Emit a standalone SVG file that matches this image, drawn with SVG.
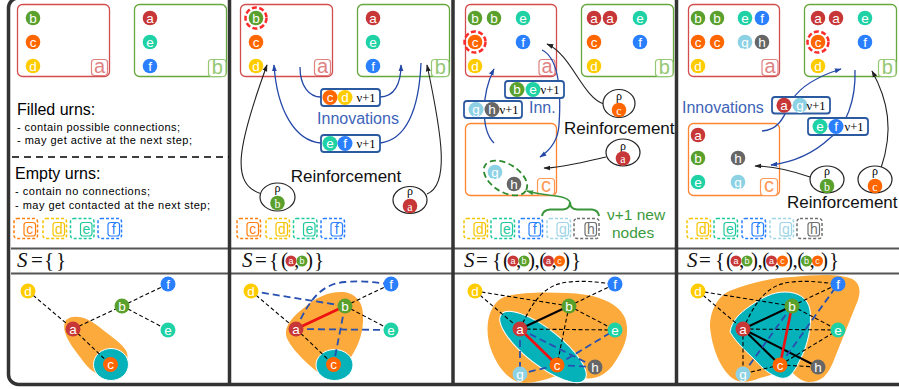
<svg xmlns="http://www.w3.org/2000/svg" width="899" height="389" viewBox="0 0 899 389">
<defs>
<marker id="mk" viewBox="0 0 10 10" refX="9" refY="5" markerWidth="7" markerHeight="7" markerUnits="userSpaceOnUse" orient="auto"><path d="M0,1.5 L10,5 L0,8.5 Z" fill="#222"/></marker>
<marker id="mb" viewBox="0 0 10 10" refX="9" refY="5" markerWidth="7" markerHeight="7" markerUnits="userSpaceOnUse" orient="auto"><path d="M0,1.5 L10,5 L0,8.5 Z" fill="#2448a8"/></marker>
<marker id="mg" viewBox="0 0 10 10" refX="9" refY="5" markerWidth="7" markerHeight="7" markerUnits="userSpaceOnUse" orient="auto"><path d="M0,1.5 L10,5 L0,8.5 Z" fill="#3a963a"/></marker>
<style>
text{font-family:"Liberation Sans",Arial,sans-serif}
.n text{fill:#fff;font-size:13.5px;text-anchor:middle}
.m text{fill:#fff;font-size:9px;text-anchor:middle}
.na circle{fill:#c83737}.nb circle{fill:#5aa02c}.nc circle{fill:#ff6600}.nd circle{fill:#ffcc00}
.ne circle{fill:#1ed2a5}.nf circle{fill:#2a7fff}.ng circle{fill:#8dd1e4}.nh circle{fill:#666}
.urn{fill:none;stroke-width:1.3}
.ra{stroke:#d24d4d}.rb{stroke:#66a83c}.rc{stroke:#ff8533}
.tag rect{fill:#fff;stroke-width:1.2}
.tag text{font-size:20px;text-anchor:middle}
.ta rect{stroke:#de8282}.ta text{fill:#de8282}
.tb rect{stroke:#96c873}.tb text{fill:#96c873}
.tc rect{stroke:#ff9955}.tc text{fill:#ff9955}
.sel{fill:none;stroke:#ff2a2a;stroke-width:2.5;stroke-dasharray:5 2.5}
.emp .o{fill:none;stroke-width:1.5;stroke-dasharray:3 2}
.emp .i{fill:none;stroke-width:1.2}
.emp text{font-size:14px;text-anchor:middle}
.xc rect{stroke:#ff7f0e}.xc text{fill:#ff7f0e}
.xd rect{stroke:#f5c400}.xd text{fill:#f5c400}
.xe rect{stroke:#1ec99d}.xe text{fill:#1ec99d}
.xf rect{stroke:#2a7fff}.xf text{fill:#2a7fff}
.xg rect{stroke:#9fd6e6}.xg text{fill:#9fd6e6}
.xh rect{stroke:#707070}.xh text{fill:#707070}
.ib{fill:#fff;stroke:#2c5aa0;stroke-width:1.8}
.nu{font-family:"Liberation Serif",serif;font-size:12.5px;fill:#000;text-anchor:middle}
.bl{fill:none;stroke:#2448a8;stroke-width:1.3}
.bk{fill:none;stroke:#222;stroke-width:1.1}
.rho ellipse{fill:#fff;stroke:#222;stroke-width:1.2}
.rho text{font-family:"Liberation Serif",serif;font-size:12px;text-anchor:middle}
.inn{fill:#3d64b8;font-size:16px}
.rf{font-size:17px;fill:#111}
.sx{font-family:"Liberation Serif",serif;font-size:21px;fill:#111}
.it{font-style:italic}
.ed{stroke:#000;stroke-width:1.1;stroke-dasharray:4 2.5;fill:none}
.eb{stroke:#2850b0;stroke-width:1.8;stroke-dasharray:7 4;fill:none}
.er{stroke:#ee1111;stroke-width:2.6}
.es{stroke:#000;stroke-width:2}
.bo{fill:#fdaa3c}
.bt{fill:#06b2b9;stroke:#fff;stroke-width:1}
.frame{fill:none;stroke:#333;stroke-width:3.5}
.sep{stroke:#555;stroke-width:2}
</style>
</defs>

<!-- outer frame, panel dividers and row separators -->
<rect class="frame" x="8.5" y="-2" width="912" height="386.5" rx="10"/>
<line class="sep" x1="11" y1="248.5" x2="899" y2="248.5"/>
<line class="sep" x1="11" y1="273.5" x2="899" y2="273.5"/>
<g stroke="#333" stroke-width="3.5">
<line x1="229.5" y1="0" x2="229.5" y2="385"/>
<line x1="453" y1="0" x2="453" y2="385"/>
<line x1="676.5" y1="0" x2="676.5" y2="385"/>
</g>

<!-- ============ step 0 ============ -->
<g id="panel-1">
<g id="p1-urn-a">
<rect class="urn ra" x="17.5" y="4.5" width="92" height="72" rx="5"/>
<g class="n nb" transform="translate(33,18)"><circle r="7.3"/><text y="4.7">b</text></g>
<g class="n nc" transform="translate(33,42)"><circle r="7.3"/><text y="4.7">c</text></g>
<g class="n nd" transform="translate(33,66)"><circle r="7.3"/><text y="4.7">d</text></g>
<g class="tag ta"><rect x="91.5" y="59.5" width="16" height="16" rx="3"/><text x="99.5" y="72.5">a</text></g>
</g>
<g id="p1-urn-b">
<rect class="urn rb" x="134.5" y="4.5" width="92" height="72" rx="5"/>
<g class="n na" transform="translate(150,18)"><circle r="7.3"/><text y="4.7">a</text></g>
<g class="n ne" transform="translate(150,42)"><circle r="7.3"/><text y="4.7">e</text></g>
<g class="n nf" transform="translate(150,66)"><circle r="7.3"/><text y="4.7">f</text></g>
<g class="tag tb"><rect x="208.5" y="59.5" width="17.5" height="17" rx="3"/><text x="217.3" y="74">b</text></g>
</g>
<g id="p1-legend">
<text x="17" y="115" font-size="16">Filled urns:</text>
<text x="17" y="131" font-size="11" textLength="163">- contain possible connections;</text>
<text x="17" y="143.5" font-size="11" textLength="175">- may get active at the next step;</text>
<line x1="12" y1="157" x2="229" y2="157" stroke="#000" stroke-width="1.5" stroke-dasharray="7 5"/>
<text x="15" y="179" font-size="16">Empty urns:</text>
<text x="15" y="194.5" font-size="11" textLength="135">- contain no connections;</text>
<text x="15" y="208.5" font-size="11" textLength="195">- may get contacted at the next step;</text>
</g>
<g id="p1-empty" class="emp">
<g class="xc"><rect class="o" x="14" y="218.5" width="23.5" height="20" rx="3"/><rect class="i" x="24" y="222.5" width="11.5" height="13.5" rx="2.5"/><text x="29.8" y="234">c</text></g>
<g class="xd"><rect class="o" x="43" y="218.5" width="23.5" height="20" rx="3"/><rect class="i" x="53" y="222.5" width="11.5" height="13.5" rx="2.5"/><text x="58.8" y="234">d</text></g>
<g class="xe"><rect class="o" x="70.5" y="218.5" width="23.5" height="20" rx="3"/><rect class="i" x="80.5" y="222.5" width="11.5" height="13.5" rx="2.5"/><text x="86.3" y="234">e</text></g>
<g class="xf"><rect class="o" x="98" y="218.5" width="23.5" height="20" rx="3"/><rect class="i" x="108" y="222.5" width="11.5" height="13.5" rx="2.5"/><text x="113.8" y="234">f</text></g>
</g>
<text class="sx" y="267"><tspan class="it" x="17">S</tspan><tspan x="31">=</tspan><tspan x="44">{</tspan><tspan x="56">}</tspan></text>
<g id="p1-graph">
<path class="bo" d="M66,320 C72,314 86,316 98,326 C115,340 131,348 127,360 L112,376 C100,378 90,372 80,357 C70,344 60,330 66,320 Z"/>
<ellipse class="bt" cx="111" cy="364.5" rx="17.5" ry="16"/>
<g id="p1-edges">
<line class="ed" x1="28" y1="291" x2="73" y2="329"/>
<line class="ed" x1="73" y1="329" x2="122" y2="306"/>
<line class="ed" x1="122" y1="306" x2="168" y2="284"/>
<line class="ed" x1="122" y1="306" x2="168" y2="330"/>
<line class="ed" x1="73" y1="329" x2="110.5" y2="364.5"/>
</g>
<g id="p1-d" class="n nd" transform="translate(28,291)"><circle r="7.5"/><text y="4.7">d</text></g>
<g id="p1-f" class="n nf" transform="translate(168,284)"><circle r="7.5"/><text y="4.7">f</text></g>
<g id="p1-b" class="n nb" transform="translate(122,306)"><circle r="7.5"/><text y="4.7">b</text></g>
<g id="p1-e" class="n ne" transform="translate(168,330)"><circle r="7.5"/><text y="4.7">e</text></g>
<g id="p1-a" class="n na" transform="translate(73,329)"><circle r="7.5"/><text y="4.7">a</text></g>
<g id="p1-c" class="n nc" transform="translate(110.5,364.5)"><circle r="7.5"/><text y="4.7">c</text></g>
</g>
</g>

<!-- ============ step 1 ============ -->
<g id="panel-2" transform="translate(223,0)">
<g id="p2-urn-a">
<rect class="urn ra" x="17.5" y="4.5" width="92" height="72" rx="5"/>
<g class="n nb" transform="translate(33,18)"><circle r="7.3"/><text y="4.7">b</text></g>
<circle class="sel" cx="33" cy="18" r="10.5"/>
<g class="n nc" transform="translate(33,42)"><circle r="7.3"/><text y="4.7">c</text></g>
<g class="n nd" transform="translate(33,66)"><circle r="7.3"/><text y="4.7">d</text></g>
<g class="tag ta"><rect x="91.5" y="59.5" width="16" height="16" rx="3"/><text x="99.5" y="72.5">a</text></g>
</g>
<g id="p2-urn-b">
<rect class="urn rb" x="134.5" y="4.5" width="92" height="72" rx="5"/>
<g class="n na" transform="translate(150,18)"><circle r="7.3"/><text y="4.7">a</text></g>
<g class="n ne" transform="translate(150,42)"><circle r="7.3"/><text y="4.7">e</text></g>
<g class="n nf" transform="translate(150,66)"><circle r="7.3"/><text y="4.7">f</text></g>
<g class="tag tb"><rect x="208.5" y="59.5" width="17.5" height="17" rx="3"/><text x="217.3" y="74">b</text></g>
</g>
<g id="p2-arrows">
<path class="bl" d="M77,67 C77,86 86,97 98,97"/>
<path class="bl" d="M157,97 C171,97 178,84 178,65" marker-end="url(#mb)"/>
<path class="bl" d="M198,63 C196,110 183,140 157,143"/>
<path class="bl" d="M98,143 C72,141 54,110 51,65" marker-end="url(#mb)"/>
<path class="bk" d="M39,194 C8,185 13,150 44,65" marker-end="url(#mk)"/>
<path class="bk" d="M204,194 C226,185 220,140 204,65" marker-end="url(#mk)"/>
</g>
<g id="p2-inn-cd">
<rect class="ib" x="98" y="89" width="59" height="17" rx="3"/>
<g class="n nc" transform="translate(107,97.5)"><circle r="7.5"/><text y="4.7">c</text></g>
<g class="n nd" transform="translate(122,97.5)"><circle r="7.5"/><text y="4.7">d</text></g>
<text class="nu" x="143" y="102">ν+1</text>
</g>
<text class="inn" x="135" y="124" text-anchor="middle">Innovations</text>
<g id="p2-inn-ef">
<rect class="ib" x="98" y="135" width="59" height="17" rx="3"/>
<g class="n ne" transform="translate(107,143.5)"><circle r="7.5"/><text y="4.7">e</text></g>
<g class="n nf" transform="translate(122,143.5)"><circle r="7.5"/><text y="4.7">f</text></g>
<text class="nu" x="143" y="148">ν+1</text>
</g>
<text class="rf" x="123" y="182" text-anchor="middle">Reinforcement</text>
<g id="p2-rho-b" class="rho">
<ellipse cx="54.5" cy="197" rx="17.5" ry="14"/>
<text x="54.5" y="192">ρ</text>
<g class="n nb" transform="translate(54.5,203)"><circle r="7.3"/><text y="4.7">b</text></g>
</g>
<g id="p2-rho-a" class="rho">
<ellipse cx="187" cy="200" rx="17" ry="13.5"/>
<text x="187" y="195">ρ</text>
<g class="n na" transform="translate(187,206)"><circle r="7.3"/><text y="4.7">a</text></g>
</g>
<g id="p2-empty" class="emp">
<g class="xc"><rect class="o" x="14" y="218.5" width="23.5" height="20" rx="3"/><rect class="i" x="24" y="222.5" width="11.5" height="13.5" rx="2.5"/><text x="29.8" y="234">c</text></g>
<g class="xd"><rect class="o" x="43" y="218.5" width="23.5" height="20" rx="3"/><rect class="i" x="53" y="222.5" width="11.5" height="13.5" rx="2.5"/><text x="58.8" y="234">d</text></g>
<g class="xe"><rect class="o" x="70.5" y="218.5" width="23.5" height="20" rx="3"/><rect class="i" x="80.5" y="222.5" width="11.5" height="13.5" rx="2.5"/><text x="86.3" y="234">e</text></g>
<g class="xf"><rect class="o" x="98" y="218.5" width="23.5" height="20" rx="3"/><rect class="i" x="108" y="222.5" width="11.5" height="13.5" rx="2.5"/><text x="113.8" y="234">f</text></g>
</g>
<g id="p2-set">
<text class="sx" y="267"><tspan class="it" x="19">S</tspan><tspan x="32">=</tspan><tspan x="46">{</tspan><tspan x="58">(</tspan><tspan x="71">,</tspan><tspan x="83">)</tspan><tspan x="91">}</tspan></text>
<g class="m na" transform="translate(68,261)"><circle r="5.5"/><text y="3.2">a</text></g>
<g class="m nb" transform="translate(79,261)"><circle r="5.5"/><text y="3.2">b</text></g>
</g>
<g id="p2-graph">
<path class="bo" d="M82,307 C92,298 105,292 118,292 C130,292 140,300 140,315 C141,330 136,345 128,357 C118,370 100,378 92,370 C80,360 65,345 63,335 C62,325 70,316 82,307 Z"/>
<ellipse class="bt" cx="111.5" cy="365" rx="18.5" ry="15.5"/>
<g id="p2-edges">
<line class="ed" x1="28" y1="291" x2="73" y2="329"/>
<line class="ed" x1="73" y1="329" x2="110.5" y2="364.5"/>
<line class="ed" x1="122" y1="306" x2="168" y2="284"/>
<line class="ed" x1="122" y1="306" x2="168" y2="330"/>
<line class="er" x1="73" y1="329" x2="122" y2="306"/>
<line class="eb" x1="28" y1="291" x2="122" y2="306"/>
<line class="eb" x1="73" y1="329" x2="168" y2="330"/>
<line class="eb" x1="122" y1="306" x2="110.5" y2="364.5"/>
<path class="eb" d="M73,329 C86,300 98,284 122,282 C140,280 155,283 168,284"/>
</g>
<g id="p2-d" class="n nd" transform="translate(28,291)"><circle r="7.5"/><text y="4.7">d</text></g>
<g id="p2-f" class="n nf" transform="translate(168,284)"><circle r="7.5"/><text y="4.7">f</text></g>
<g id="p2-b" class="n nb" transform="translate(122,306)"><circle r="7.5"/><text y="4.7">b</text></g>
<g id="p2-e" class="n ne" transform="translate(168,330)"><circle r="7.5"/><text y="4.7">e</text></g>
<g id="p2-a" class="n na" transform="translate(73,329)"><circle r="7.5"/><text y="4.7">a</text></g>
<g id="p2-c" class="n nc" transform="translate(110.5,364.5)"><circle r="7.5"/><text y="4.7">c</text></g>
</g>
</g>

<!-- ============ step 2 ============ -->
<g id="panel-3" transform="translate(447,0)">
<g id="p3-urn-a">
<rect class="urn ra" x="18.5" y="4.5" width="91" height="72" rx="5"/>
<g class="n nb" transform="translate(28,18)"><circle r="7.3"/><text y="4.7">b</text></g>
<g class="n nb" transform="translate(47,18)"><circle r="7.3"/><text y="4.7">b</text></g>
<g class="n ne" transform="translate(76,18)"><circle r="7.3"/><text y="4.7">e</text></g>
<g class="n nc" transform="translate(28,42)"><circle r="7.3"/><text y="4.7">c</text></g>
<circle class="sel" cx="28" cy="42" r="10.5"/>
<g class="n nf" transform="translate(76,42)"><circle r="7.3"/><text y="4.7">f</text></g>
<g class="n nd" transform="translate(28,66)"><circle r="7.3"/><text y="4.7">d</text></g>
<g class="tag ta"><rect x="92" y="59.5" width="16" height="16" rx="3"/><text x="100" y="72.5">a</text></g>
</g>
<g id="p3-urn-b">
<rect class="urn rb" x="134.5" y="4.5" width="92" height="72" rx="5"/>
<g class="n na" transform="translate(147,18)"><circle r="7.3"/><text y="4.7">a</text></g>
<g class="n na" transform="translate(163,18)"><circle r="7.3"/><text y="4.7">a</text></g>
<g class="n ne" transform="translate(193,18)"><circle r="7.3"/><text y="4.7">e</text></g>
<g class="n nc" transform="translate(147,42)"><circle r="7.3"/><text y="4.7">c</text></g>
<g class="n nf" transform="translate(193,42)"><circle r="7.3"/><text y="4.7">f</text></g>
<g class="n nd" transform="translate(147,66)"><circle r="7.3"/><text y="4.7">d</text></g>
<g class="tag tb"><rect x="208.5" y="59.5" width="17.5" height="17" rx="3"/><text x="217.3" y="74">b</text></g>
</g>
<g id="p3-urn-c">
<rect class="urn rc" x="18.5" y="123.5" width="91" height="72" rx="5"/>
<ellipse cx="58.5" cy="178" rx="24" ry="14" transform="rotate(32 58.5 178)" fill="none" stroke="#2d8a2d" stroke-width="1.8" stroke-dasharray="6 3.5"/>
<g class="n ng" transform="translate(48,172)"><circle r="7.3"/><text y="4.7">g</text></g>
<g class="n nh" transform="translate(67,184)"><circle r="7.3"/><text y="4.7">h</text></g>
<g class="tag tc"><rect x="90.5" y="178.5" width="17" height="17" rx="3"/><text x="99" y="192">c</text></g>
</g>
<g id="p3-arrows">
<path class="bl" d="M47,143 C34,130 34,95 47,69" marker-end="url(#mb)"/>
<path class="bl" d="M95,50 C116,60 113,110 112,125 C111,142 102,151 93,157" marker-end="url(#mb)"/>
<path class="bk" d="M157,104 C135,97 125,55 100,44" marker-end="url(#mk)"/>
<path class="bk" d="M159,157 C135,162 115,168 97,168" marker-end="url(#mk)"/>
</g>
<g id="p3-inn-be">
<rect class="ib" x="58" y="81" width="59" height="17" rx="3"/>
<g class="n nb" transform="translate(70,89.5)"><circle r="7.5"/><text y="4.7">b</text></g>
<g class="n ne" transform="translate(86,89.5)"><circle r="7.5"/><text y="4.7">e</text></g>
<text class="nu" x="103" y="94">ν+1</text>
</g>
<g id="p3-inn-gh">
<rect class="ib" x="17" y="101" width="58" height="17" rx="3"/>
<g class="n ng" transform="translate(29,109.5)"><circle r="7.5"/><text y="4.7">g</text></g>
<g class="n nh" transform="translate(45,109.5)"><circle r="7.5"/><text y="4.7">h</text></g>
<text class="nu" x="62" y="114">ν+1</text>
</g>
<text class="inn" x="82" y="113">Inn.</text>
<text class="rf" x="117" y="134">Reinforcement</text>
<g id="p3-rho-c" class="rho">
<ellipse cx="172" cy="103.5" rx="16" ry="14"/>
<text x="172" y="99.5">ρ</text>
<g class="n nc" transform="translate(172,110)"><circle r="7.3"/><text y="4.7">c</text></g>
</g>
<g id="p3-rho-a" class="rho">
<ellipse cx="176" cy="152.5" rx="17" ry="13.5"/>
<text x="176" y="149.5">ρ</text>
<g class="n na" transform="translate(176,158.5)"><circle r="7.3"/><text y="4.7">a</text></g>
</g>
<g id="p3-new">
<path d="M95,216 Q96,210 103,209.5 L116,209.5 Q123,209 123,202 Q123,209 130,209.5 L145,209.5 Q151,210 152,216" fill="none" stroke="#3a963a" stroke-width="2"/>
<path d="M123,202 C118,194 100,197 80,191" fill="none" stroke="#3a963a" stroke-width="1.5" marker-end="url(#mg)"/>
<text x="160" y="220" font-size="15.5" fill="#3c9a3c">ν+1 new</text>
<text x="165" y="238" font-size="15.5" fill="#3c9a3c">nodes</text>
</g>
<g id="p3-empty" class="emp">
<g class="xd"><rect class="o" x="17" y="218.5" width="23.5" height="20" rx="3"/><rect class="i" x="27" y="222.5" width="11.5" height="13.5" rx="2.5"/><text x="32.8" y="234">d</text></g>
<g class="xe"><rect class="o" x="44" y="218.5" width="23.5" height="20" rx="3"/><rect class="i" x="54" y="222.5" width="11.5" height="13.5" rx="2.5"/><text x="59.8" y="234">e</text></g>
<g class="xf"><rect class="o" x="72" y="218.5" width="23.5" height="20" rx="3"/><rect class="i" x="82" y="222.5" width="11.5" height="13.5" rx="2.5"/><text x="87.8" y="234">f</text></g>
<g class="xg"><rect class="o" x="100" y="218.5" width="23.5" height="20" rx="3"/><rect class="i" x="110" y="222.5" width="11.5" height="13.5" rx="2.5"/><text x="115.8" y="234">g</text></g>
<g class="xh"><rect class="o" x="127" y="218.5" width="25" height="20" rx="3"/><rect class="i" x="138" y="222.5" width="11.5" height="13.5" rx="2.5"/><text x="143.8" y="234">h</text></g>
</g>
<g id="p3-set">
<text class="sx" y="267"><tspan class="it" x="17">S</tspan><tspan x="29">=</tspan><tspan x="45">{</tspan><tspan x="56">(</tspan><tspan x="69">,</tspan><tspan x="81" letter-spacing="-0.5">),(</tspan><tspan x="104.5">,</tspan><tspan x="116">)</tspan><tspan x="124">}</tspan></text>
<g class="m na" transform="translate(66,261)"><circle r="5.5"/><text y="3.2">a</text></g>
<g class="m nb" transform="translate(77,261)"><circle r="5.5"/><text y="3.2">b</text></g>
<g class="m na" transform="translate(101.5,261)"><circle r="5.5"/><text y="3.2">a</text></g>
<g class="m nc" transform="translate(112.5,261)"><circle r="5.5"/><text y="3.2">c</text></g>
</g>
<g id="p3-graph">
<path class="bo" d="M42,343 C38,325 42,305 55,298 C70,292 95,292 120,293 C145,294 170,300 178,318 C184,335 176,350 168,362 C160,375 148,380 136,378 C128,376 126,370 120,372 C108,376 95,382 78,383 C62,383 48,365 42,343 Z"/>
<ellipse class="bt" cx="96" cy="347" rx="53" ry="18" transform="rotate(38 96 347)"/>
<g id="p3-edges">
<line class="ed" x1="28" y1="291" x2="73" y2="329"/>
<line class="ed" x1="28" y1="291" x2="122" y2="306"/>
<path class="ed" d="M73,329 C86,300 98,284 122,282 C140,280 155,283 168,284"/>
<line class="ed" x1="122" y1="306" x2="168" y2="284"/>
<line class="ed" x1="122" y1="306" x2="168" y2="330"/>
<line class="ed" x1="73" y1="329" x2="168" y2="330"/>
<line class="ed" x1="122" y1="306" x2="110" y2="365"/>
<line class="es" x1="73" y1="329" x2="122" y2="306"/>
<line class="eb" x1="73" y1="329" x2="73" y2="374"/>
<line class="eb" x1="73" y1="329" x2="148" y2="367"/>
<line class="eb" x1="110" y1="365" x2="168" y2="330"/>
<line class="eb" x1="110" y1="365" x2="73" y2="374"/>
<line class="eb" x1="110" y1="365" x2="148" y2="367"/>
<line class="er" x1="73" y1="329" x2="110" y2="365"/>
</g>
<g id="p3-d" class="n nd" transform="translate(28,291)"><circle r="7.5"/><text y="4.7">d</text></g>
<g id="p3-f" class="n nf" transform="translate(168,284)"><circle r="7.5"/><text y="4.7">f</text></g>
<g id="p3-b" class="n nb" transform="translate(122,306)"><circle r="7.5"/><text y="4.7">b</text></g>
<g id="p3-e" class="n ne" transform="translate(168,330)"><circle r="7.5"/><text y="4.7">e</text></g>
<g id="p3-a" class="n na" transform="translate(73,329)"><circle r="7.5"/><text y="4.7">a</text></g>
<g id="p3-c" class="n nc" transform="translate(110,365)"><circle r="7.5"/><text y="4.7">c</text></g>
<g id="p3-h" class="n nh" transform="translate(148,367)"><circle r="7.5"/><text y="4.7">h</text></g>
<g id="p3-g" class="n ng" transform="translate(73,374)"><circle r="7.5"/><text y="4.7">g</text></g>
</g>
</g>

<!-- ============ step 3 ============ -->
<g id="panel-4" transform="translate(670,0)">
<g id="p4-urn-a">
<rect class="urn ra" x="18.5" y="4.5" width="91" height="72" rx="5"/>
<g class="n nb" transform="translate(28,18)"><circle r="7.3"/><text y="4.7">b</text></g>
<g class="n nb" transform="translate(47,18)"><circle r="7.3"/><text y="4.7">b</text></g>
<g class="n ne" transform="translate(75,18)"><circle r="7.3"/><text y="4.7">e</text></g>
<g class="n nf" transform="translate(92,18)"><circle r="7.3"/><text y="4.7">f</text></g>
<g class="n nc" transform="translate(28,42)"><circle r="7.3"/><text y="4.7">c</text></g>
<g class="n nc" transform="translate(47,42)"><circle r="7.3"/><text y="4.7">c</text></g>
<g class="n ng" transform="translate(75,42)"><circle r="7.3"/><text y="4.7">g</text></g>
<g class="n nh" transform="translate(92,42)"><circle r="7.3"/><text y="4.7">h</text></g>
<g class="n nd" transform="translate(28,66)"><circle r="7.3"/><text y="4.7">d</text></g>
<g class="tag ta"><rect x="92" y="59.5" width="16" height="16" rx="3"/><text x="100" y="72.5">a</text></g>
</g>
<g id="p4-urn-b">
<rect class="urn rb" x="134.5" y="4.5" width="92" height="72" rx="5"/>
<g class="n na" transform="translate(148,18)"><circle r="7.3"/><text y="4.7">a</text></g>
<g class="n na" transform="translate(166,18)"><circle r="7.3"/><text y="4.7">a</text></g>
<g class="n ne" transform="translate(195,18)"><circle r="7.3"/><text y="4.7">e</text></g>
<g class="n nc" transform="translate(148,42)"><circle r="7.3"/><text y="4.7">c</text></g>
<circle class="sel" cx="148" cy="42" r="10.5"/>
<g class="n nf" transform="translate(195,42)"><circle r="7.3"/><text y="4.7">f</text></g>
<g class="n nd" transform="translate(148,66)"><circle r="7.3"/><text y="4.7">d</text></g>
<g class="tag tb"><rect x="208.5" y="59.5" width="17.5" height="17" rx="3"/><text x="217.3" y="74">b</text></g>
</g>
<g id="p4-urn-c">
<rect class="urn rc" x="18.5" y="123.5" width="91" height="72" rx="5"/>
<g class="n na" transform="translate(28,135)"><circle r="7.3"/><text y="4.7">a</text></g>
<g class="n nb" transform="translate(28,158)"><circle r="7.3"/><text y="4.7">b</text></g>
<g class="n nh" transform="translate(68,158)"><circle r="7.3"/><text y="4.7">h</text></g>
<g class="n ne" transform="translate(28,182)"><circle r="7.3"/><text y="4.7">e</text></g>
<g class="n ng" transform="translate(68,182)"><circle r="7.3"/><text y="4.7">g</text></g>
<g class="tag tc"><rect x="90.5" y="178.5" width="17" height="17" rx="3"/><text x="99" y="192">c</text></g>
</g>
<g id="p4-arrows">
<path class="bl" d="M92,131 C112,130 116,110 122,100 C132,84 152,75 171,69" marker-end="url(#mb)"/>
<path class="bl" d="M185,70 C186,100 176,127 160,138 C145,152 125,162 101,165" marker-end="url(#mb)"/>
<path class="bk" d="M140,177 C120,170 102,166 85,166" marker-end="url(#mk)"/>
<path class="bk" d="M211,168 C224,130 218,100 202,71" marker-end="url(#mk)"/>
</g>
<text class="inn" x="12" y="113">Innovations</text>
<g id="p4-inn-ag">
<rect class="ib" x="102" y="97" width="58" height="16.5" rx="3"/>
<g class="n na" transform="translate(114,105.2)"><circle r="7.5"/><text y="4.7">a</text></g>
<g class="n ng" transform="translate(130,105.2)"><circle r="7.5"/><text y="4.7">g</text></g>
<text class="nu" x="146" y="110">ν+1</text>
</g>
<g id="p4-inn-ef">
<rect class="ib" x="138" y="118" width="60" height="17" rx="3"/>
<g class="n ne" transform="translate(150,126.5)"><circle r="7.5"/><text y="4.7">e</text></g>
<g class="n nf" transform="translate(166,126.5)"><circle r="7.5"/><text y="4.7">f</text></g>
<text class="nu" x="184" y="131">ν+1</text>
</g>
<g id="p4-rho-b" class="rho">
<ellipse cx="157" cy="179.5" rx="17" ry="13.5"/>
<text x="157" y="175">ρ</text>
<g class="n nb" transform="translate(157,186)"><circle r="7.3"/><text y="4.7">b</text></g>
</g>
<g id="p4-rho-c" class="rho">
<ellipse cx="205" cy="179.5" rx="17" ry="13.5"/>
<text x="205" y="175">ρ</text>
<g class="n nc" transform="translate(205,186)"><circle r="7.3"/><text y="4.7">c</text></g>
</g>
<text class="rf" x="117" y="208">Reinforcement</text>
<g id="p4-empty" class="emp">
<g class="xd"><rect class="o" x="17" y="218.5" width="23.5" height="20" rx="3"/><rect class="i" x="27" y="222.5" width="11.5" height="13.5" rx="2.5"/><text x="32.8" y="234">d</text></g>
<g class="xe"><rect class="o" x="44" y="218.5" width="23.5" height="20" rx="3"/><rect class="i" x="54" y="222.5" width="11.5" height="13.5" rx="2.5"/><text x="59.8" y="234">e</text></g>
<g class="xf"><rect class="o" x="72" y="218.5" width="23.5" height="20" rx="3"/><rect class="i" x="82" y="222.5" width="11.5" height="13.5" rx="2.5"/><text x="87.8" y="234">f</text></g>
<g class="xg"><rect class="o" x="100" y="218.5" width="23.5" height="20" rx="3"/><rect class="i" x="110" y="222.5" width="11.5" height="13.5" rx="2.5"/><text x="115.8" y="234">g</text></g>
<g class="xh"><rect class="o" x="127" y="218.5" width="25" height="20" rx="3"/><rect class="i" x="138" y="222.5" width="11.5" height="13.5" rx="2.5"/><text x="143.8" y="234">h</text></g>
</g>
<g id="p4-set">
<text class="sx" y="267"><tspan class="it" x="17">S</tspan><tspan x="29">=</tspan><tspan x="45">{</tspan><tspan x="56">(</tspan><tspan x="69">,</tspan><tspan x="81" letter-spacing="-0.5">),(</tspan><tspan x="104.5">,</tspan><tspan x="116" letter-spacing="-0.5">),(</tspan><tspan x="139.5">,</tspan><tspan x="151">)</tspan><tspan x="159">}</tspan></text>
<g class="m na" transform="translate(66,261)"><circle r="5.5"/><text y="3.2">a</text></g>
<g class="m nb" transform="translate(77,261)"><circle r="5.5"/><text y="3.2">b</text></g>
<g class="m na" transform="translate(101.5,261)"><circle r="5.5"/><text y="3.2">a</text></g>
<g class="m nc" transform="translate(112.5,261)"><circle r="5.5"/><text y="3.2">c</text></g>
<g class="m nb" transform="translate(136.5,261)"><circle r="5.5"/><text y="3.2">b</text></g>
<g class="m nc" transform="translate(147.5,261)"><circle r="5.5"/><text y="3.2">c</text></g>
</g>
<g id="p4-graph">
<path class="bo" d="M40,327 C40,310 48,295 62,290 C80,283 100,278 122,277 C145,275 170,273 184,280 C192,286 190,296 186,305 C180,320 172,340 164,360 C158,375 152,382 138,382 C128,381 124,372 118,370 L90,378 C80,382 70,384 62,378 C50,368 42,348 40,327 Z"/>
<path class="bt" d="M60,332 C62,320 70,313 80,306 C92,298 102,292 115,292 C128,292 138,298 140,310 C142,325 138,345 130,360 C124,372 120,380 110,378 C100,375 92,368 85,360 C78,353 68,345 60,332 Z"/>
<g id="p4-edges">
<line class="ed" x1="28" y1="291" x2="73" y2="329"/>
<line class="ed" x1="28" y1="291" x2="122" y2="306"/>
<path class="ed" d="M73,329 C86,300 98,284 122,282 C140,280 155,283 168,284"/>
<line class="ed" x1="122" y1="306" x2="168" y2="284"/>
<line class="ed" x1="122" y1="306" x2="168" y2="330"/>
<line class="ed" x1="73" y1="329" x2="168" y2="330"/>
<line class="ed" x1="73" y1="329" x2="73" y2="374"/>
<line class="ed" x1="110" y1="365" x2="73" y2="374"/>
<line class="ed" x1="110" y1="365" x2="148" y2="367"/>
<line class="ed" x1="110" y1="365" x2="168" y2="330"/>
<line class="es" x1="73" y1="329" x2="122" y2="306"/>
<line class="es" x1="73" y1="329" x2="110" y2="365"/>
<line class="es" x1="73" y1="329" x2="148" y2="367"/>
<line class="eb" x1="122" y1="306" x2="73" y2="374"/>
<line class="eb" x1="110" y1="365" x2="168" y2="284"/>
<line class="er" x1="122" y1="306" x2="110" y2="365"/>
</g>
<g id="p4-d" class="n nd" transform="translate(28,291)"><circle r="7.5"/><text y="4.7">d</text></g>
<g id="p4-f" class="n nf" transform="translate(168,284)"><circle r="7.5"/><text y="4.7">f</text></g>
<g id="p4-b" class="n nb" transform="translate(122,306)"><circle r="7.5"/><text y="4.7">b</text></g>
<g id="p4-e" class="n ne" transform="translate(168,330)"><circle r="7.5"/><text y="4.7">e</text></g>
<g id="p4-a" class="n na" transform="translate(73,329)"><circle r="7.5"/><text y="4.7">a</text></g>
<g id="p4-c" class="n nc" transform="translate(110,365)"><circle r="7.5"/><text y="4.7">c</text></g>
<g id="p4-h" class="n nh" transform="translate(148,367)"><circle r="7.5"/><text y="4.7">h</text></g>
<g id="p4-g" class="n ng" transform="translate(73,374)"><circle r="7.5"/><text y="4.7">g</text></g>
</g>
</g>
</svg>
